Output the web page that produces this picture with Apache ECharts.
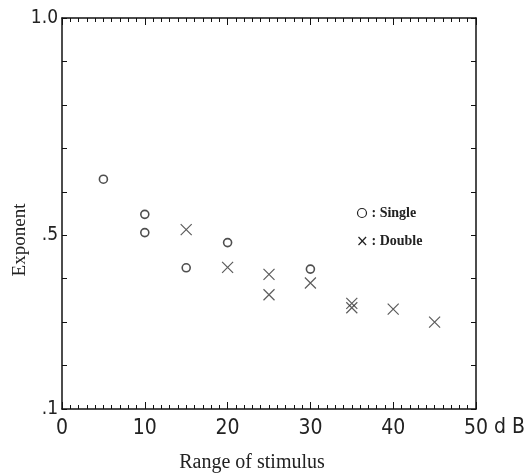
<!DOCTYPE html>
<html><head><meta charset="utf-8">
<script src="https://cdn.jsdelivr.net/npm/echarts@6/dist/echarts.min.js"></script>
<style>html,body{margin:0;padding:0;background:#fff}#c{width:529px;height:474px}</style>
</head><body><div id="c"></div>
<script>
// Data
const singleX = [5, 10, 10, 15, 20, 30];
const singleY = [0.629, 0.548, 0.506, 0.425, 0.483, 0.422];
const doubleX = [15, 20, 25, 25, 30, 35, 35, 40, 45];
const doubleY = [0.513, 0.426, 0.410, 0.363, 0.390, 0.343, 0.333, 0.330, 0.300];
const xTicks = [0, 10, 20, 30, 40, 50];
const yTickLabels = {"1.0": "1.0", "0.5": ".5", "0.1": ".1"};
const legendNames = ["Single", "Double"];

const crossPath = 'path://M0,0L10,10M10,0L0,10';
const axisFont = 'DejaVu Sans Condensed, DejaVu Sans';
const lineStyle = {color: '#111', width: 1.5};

const chart = echarts.init(document.getElementById('c'));
const xBase = {
  type: 'value', min: 0, max: 50, interval: 10,
  axisLine: {show: true, onZero: false, lineStyle: lineStyle},
  axisTick: {show: true, inside: true, length: 7, lineStyle: {color: '#111', width: 1}},
  minorTick: {show: true, splitNumber: 10, length: 4, lineStyle: {color: '#111', width: 1}},
  splitLine: {show: false}
};
const yBase = {
  type: 'value', min: 0.1, max: 1.0, interval: 0.1,
  axisLine: {show: true, onZero: false, lineStyle: lineStyle},
  axisTick: {show: true, inside: true, length: 5, lineStyle: {color: '#111', width: 1}},
  splitLine: {show: false}
};
chart.setOption({
  animation: false,
  backgroundColor: '#fff',
  grid: {left: 62, right: 53, top: 18, bottom: 65},
  xAxis: [
    Object.assign({}, xBase, {
      position: 'bottom',
      axisLabel: {show: true, margin: 9, fontFamily: axisFont, fontSize: 21, fontWeight: 'lighter', color: '#222',
        formatter: v => xTicks.includes(v) ? String(v) : ''}
    }),
    Object.assign({}, xBase, {position: 'top', axisLabel: {show: false}})
  ],
  yAxis: [
    Object.assign({}, yBase, {
      position: 'left',
      axisLabel: {show: true, margin: 4, fontFamily: axisFont, fontSize: 19, fontWeight: 'lighter', color: '#222',
        formatter: v => yTickLabels[(Math.round(v * 10) / 10).toFixed(1)] || ''}
    }),
    Object.assign({}, yBase, {position: 'right', axisLabel: {show: false}})
  ],
  series: [
    {
      name: legendNames[0], type: 'scatter', xAxisIndex: 0, yAxisIndex: 0,
      symbol: 'circle', symbolSize: 8,
      itemStyle: {color: '#fff', borderColor: '#222', borderWidth: 1.6},
      data: singleX.map((x, i) => [x, singleY[i]])
    },
    {
      name: legendNames[1], type: 'scatter', xAxisIndex: 0, yAxisIndex: 0,
      symbol: crossPath, symbolSize: 11,
      itemStyle: {color: 'none', borderColor: '#333', borderWidth: 1.2},
      data: doubleX.map((x, i) => [x, doubleY[i]])
    }
  ],
  graphic: [
    {type: 'text', x: 494, y: 428, style: {text: 'd B', fontFamily: axisFont, fontSize: 21, fill: '#222', textVerticalAlign: 'middle'}},
    {type: 'text', x: 252, y: 463, style: {text: 'Range of stimulus', fontFamily: 'Liberation Serif', fontSize: 20, fill: '#222', textAlign: 'center', textVerticalAlign: 'middle'}},
    {type: 'text', x: 20, y: 240, rotation: Math.PI / 2, style: {text: 'Exponent', fontFamily: 'Liberation Serif', fontSize: 19, fill: '#222', textAlign: 'center', textVerticalAlign: 'middle'}},
    {type: 'circle', shape: {cx: 362, cy: 213, r: 4.5}, style: {fill: 'none', stroke: '#222', lineWidth: 1.2}},
    {type: 'text', x: 368, y: 213, style: {text: ' : ' + legendNames[0], fontFamily: 'Liberation Serif', fontWeight: 'bold', fontSize: 14, fill: '#222', textVerticalAlign: 'middle'}},
    {type: 'text', x: 356, y: 242, style: {text: '\u00d7', fontFamily: 'DejaVu Sans', fontSize: 15, fill: '#222', textVerticalAlign: 'middle'}},
    {type: 'text', x: 368, y: 241, style: {text: ' : ' + legendNames[1], fontFamily: 'Liberation Serif', fontWeight: 'bold', fontSize: 14, fill: '#222', textVerticalAlign: 'middle'}}
  ]
});
</script></body></html>
